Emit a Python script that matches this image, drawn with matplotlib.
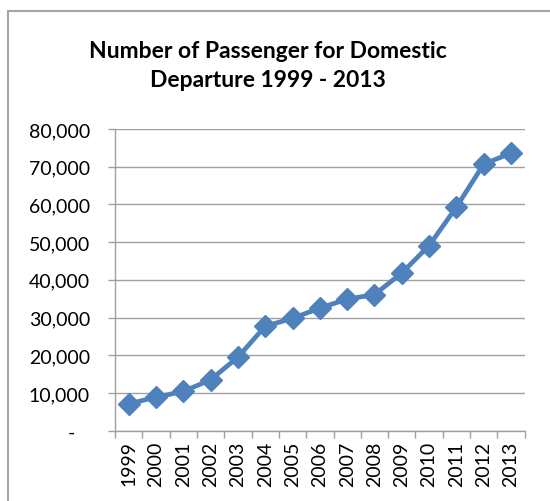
import matplotlib.pyplot as plt
from matplotlib.patches import Rectangle
from matplotlib.ticker import FuncFormatter
import numpy as np

years = ["1999", "2000", "2001", "2002", "2003", "2004", "2005", "2006",
         "2007", "2008", "2009", "2010", "2011", "2012", "2013"]
passengers = [7100, 8900, 10400, 13500, 19500, 27700, 29800, 32500,
              34900, 36100, 41800, 49100, 59300, 70700, 73600]

plt.rcParams['font.family'] = ['Lato', 'DejaVu Sans']

fig = plt.figure(figsize=(5.5, 5.02), dpi=100)

# chart border like an Excel chart area
fig.patches.append(Rectangle((8 / 550, -0.1), 1.2, (502 - 12) / 502 + 0.1,
                             transform=fig.transFigure, fill=False,
                             edgecolor="#A6A6A6", linewidth=1.5))

ax = fig.add_axes([115 / 550, 70.3 / 502, 409.7 / 550, 301.7 / 502])

x = np.arange(len(years))
ax.plot(x, passengers, color="#4F81BD", linewidth=3.4, marker="D",
        markersize=11, zorder=3)

ax.set_xlim(-0.5, len(years) - 0.5)
ax.set_ylim(0, 80000)
ax.set_yticks(np.arange(0, 80001, 10000))
ax.yaxis.set_major_formatter(FuncFormatter(lambda v, p: "-   " if v == 0 else f"{v:,.0f}"))
ax.set_xticks(x)
ax.set_xticklabels(years, rotation=90)
ax.set_xticks(np.arange(-0.5, len(years), 1), minor=True)
ax.tick_params(axis="x", which="major", length=0, pad=7, labelsize=14)
ax.tick_params(axis="x", which="minor", length=5, color="#A0A0A0", width=1)
ax.tick_params(axis="y", length=5, color="#A0A0A0", width=1, pad=13, labelsize=14)

ax.grid(axis="y", color="#A0A0A0", linewidth=1)
ax.set_axisbelow(True)
for s in ["top", "right"]:
    ax.spines[s].set_visible(False)
for s in ["left", "bottom"]:
    ax.spines[s].set_color("#A0A0A0")
    ax.spines[s].set_linewidth(1)

fig.text(268 / 550, 1 - 66 / 502, "Number of Passenger for Domestic\nDeparture 1999 - 2013",
         ha="center", va="center", fontsize=16.5, fontweight="bold", linespacing=1.5)

fig.savefig("out.png", dpi=100)
